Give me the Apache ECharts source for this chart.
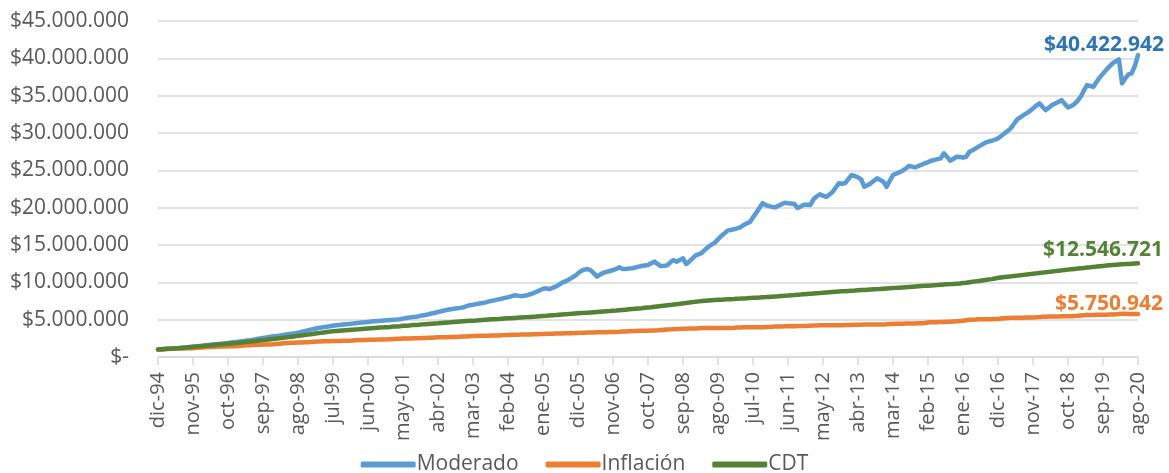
<!DOCTYPE html>
<html>
<head>
<meta charset="utf-8">
<script src="https://cdn.jsdelivr.net/npm/echarts@6/dist/echarts.min.js"></script>
<style>
  html, body { margin: 0; padding: 0; background: #fff; }
  #echart { width: 1169px; height: 473px; }
</style>
</head>
<body>
<div id="echart"></div>
<script>
  // meses de dic-94 a ago-20 (309 puntos)
  const monthNames = ['ene', 'feb', 'mar', 'abr', 'may', 'jun', 'jul', 'ago', 'sep', 'oct', 'nov', 'dic'];
  const categories = [];
  for (let i = 0; i < 309; i++) {
    const m = (11 + i) % 12;
    const y = (94 + Math.floor((11 + i) / 12)) % 100;
    categories.push(monthNames[m] + '-' + String(y).padStart(2, '0'));
  }

  // valores en millones de pesos
  const moderado = [
    1.00,
    1.03, 1.06, 1.09, 1.12, 1.15, 1.18, 1.22, 1.26, 1.30, 1.34, 1.38, 1.42,
    1.47, 1.52, 1.57, 1.62, 1.67, 1.71, 1.75, 1.79, 1.83, 1.88, 1.93, 1.98,
    2.03, 2.09, 2.14, 2.20, 2.26, 2.33, 2.40, 2.47, 2.55, 2.62, 2.68, 2.74,
    2.80, 2.86, 2.93, 3.00, 3.06, 3.12, 3.18, 3.26, 3.36, 3.46, 3.56, 3.66,
    3.76, 3.85, 3.93, 4.00, 4.06, 4.12, 4.18, 4.24, 4.29, 4.34, 4.38, 4.42,
    4.47, 4.52, 4.57, 4.61, 4.65, 4.70, 4.74, 4.78, 4.82, 4.85, 4.89, 4.93,
    4.96, 4.99, 5.02, 5.06, 5.14, 5.22, 5.28, 5.34, 5.40, 5.47, 5.55, 5.63,
    5.72, 5.82, 5.92, 6.03, 6.12, 6.22, 6.34, 6.40, 6.46, 6.52, 6.58, 6.66,
    6.80, 6.94, 7.00, 7.08, 7.17, 7.23, 7.32, 7.45, 7.53, 7.62, 7.72, 7.81,
    7.92, 8.00, 8.12, 8.26, 8.22, 8.15, 8.20, 8.28, 8.40, 8.55, 8.75, 8.95,
    9.15, 9.20, 9.08, 9.25, 9.42, 9.68, 9.95, 10.12, 10.35, 10.60, 10.85, 11.20,
    11.52, 11.70, 11.78, 11.62, 11.20, 10.76, 11.05, 11.29, 11.40, 11.52, 11.65, 11.80,
    12.01, 11.78, 11.80, 11.84, 11.87, 11.98, 12.10, 12.18, 12.25, 12.32, 12.55, 12.77,
    12.45, 12.19, 12.22, 12.27, 12.65, 12.99, 12.77, 13.00, 13.21, 12.45, 12.80, 13.20,
    13.61, 13.78, 13.97, 14.40, 14.77, 15.05, 15.31, 15.75, 16.20, 16.55, 16.92, 17.02,
    17.10, 17.22, 17.36, 17.65, 17.90, 18.05, 18.70, 19.30, 19.95, 20.60, 20.35, 20.20,
    20.10, 20.04, 20.25, 20.45, 20.66, 20.60, 20.55, 20.49, 19.95, 20.15, 20.40, 20.38,
    20.35, 21.12, 21.50, 21.80, 21.60, 21.45, 21.75, 22.10, 22.70, 23.26, 23.20, 23.30,
    23.85, 24.37, 24.24, 24.05, 23.79, 22.80, 23.00, 23.26, 23.60, 23.93, 23.70, 23.48,
    22.80, 23.60, 24.37, 24.55, 24.75, 24.95, 25.25, 25.58, 25.50, 25.40, 25.58, 25.75,
    25.94, 26.10, 26.29, 26.40, 26.50, 26.60, 27.28, 26.80, 26.29, 26.55, 26.82, 26.80,
    26.70, 26.82, 27.49, 27.70, 27.94, 28.20, 28.45, 28.70, 28.85, 28.96, 29.10, 29.28,
    29.60, 29.95, 30.25, 30.62, 31.20, 31.82, 32.10, 32.40, 32.65, 32.94, 33.30, 33.65,
    33.97, 33.50, 33.07, 33.40, 33.74, 33.95, 34.15, 34.41, 33.90, 33.43, 33.60, 33.88,
    34.30, 34.86, 35.70, 36.42, 36.30, 36.20, 36.85, 37.45, 37.95, 38.43, 38.90, 39.33,
    39.60, 39.86, 36.65, 37.30, 37.85, 38.00, 38.95, 40.422942
  ];

  const inflacion = [
    1.00,
    1.02, 1.05, 1.07, 1.09, 1.11, 1.13, 1.14, 1.15, 1.16, 1.17, 1.18, 1.20,
    1.23, 1.27, 1.30, 1.33, 1.35, 1.37, 1.39, 1.40, 1.42, 1.43, 1.44, 1.45,
    1.48, 1.51, 1.54, 1.57, 1.59, 1.61, 1.63, 1.64, 1.66, 1.68, 1.69, 1.71,
    1.74, 1.78, 1.82, 1.86, 1.89, 1.91, 1.92, 1.93, 1.94, 1.96, 1.97, 2.00,
    2.03, 2.06, 2.08, 2.10, 2.11, 2.12, 2.13, 2.14, 2.15, 2.16, 2.17, 2.18,
    2.20, 2.24, 2.26, 2.28, 2.29, 2.30, 2.31, 2.32, 2.33, 2.35, 2.36, 2.37,
    2.39, 2.42, 2.44, 2.46, 2.47, 2.48, 2.49, 2.50, 2.51, 2.52, 2.53, 2.55,
    2.57, 2.59, 2.61, 2.63, 2.64, 2.65, 2.66, 2.67, 2.68, 2.69, 2.71, 2.73,
    2.75, 2.78, 2.80, 2.82, 2.83, 2.84, 2.85, 2.86, 2.87, 2.88, 2.89, 2.91,
    2.93, 2.95, 2.97, 2.98, 2.99, 3.00, 3.01, 3.02, 3.03, 3.04, 3.05, 3.07,
    3.09, 3.11, 3.12, 3.13, 3.14, 3.15, 3.16, 3.17, 3.18, 3.19, 3.20, 3.22,
    3.24, 3.26, 3.27, 3.28, 3.29, 3.30, 3.31, 3.32, 3.33, 3.34, 3.35, 3.36,
    3.38, 3.41, 3.43, 3.46, 3.48, 3.49, 3.50, 3.51, 3.52, 3.53, 3.54, 3.55,
    3.58, 3.62, 3.65, 3.68, 3.70, 3.72, 3.74, 3.76, 3.78, 3.80, 3.81, 3.82,
    3.83, 3.85, 3.87, 3.88, 3.89, 3.89, 3.89, 3.90, 3.89, 3.89, 3.89, 3.90,
    3.92, 3.95, 3.96, 3.98, 3.99, 3.99, 4.00, 4.00, 4.00, 4.00, 4.01, 4.02,
    4.04, 4.07, 4.09, 4.10, 4.11, 4.12, 4.14, 4.13, 4.14, 4.15, 4.16, 4.17,
    4.19, 4.21, 4.22, 4.24, 4.25, 4.25, 4.25, 4.25, 4.26, 4.26, 4.26, 4.28,
    4.29, 4.30, 4.31, 4.32, 4.33, 4.34, 4.34, 4.35, 4.35, 4.34, 4.35, 4.36,
    4.38, 4.41, 4.42, 4.44, 4.45, 4.46, 4.47, 4.48, 4.49, 4.50, 4.51, 4.52,
    4.55, 4.61, 4.64, 4.66, 4.67, 4.68, 4.69, 4.71, 4.73, 4.76, 4.79, 4.82,
    4.86, 4.93, 4.98, 5.00, 5.02, 5.05, 5.07, 5.06, 5.06, 5.07, 5.08, 5.10,
    5.15, 5.20, 5.22, 5.24, 5.26, 5.27, 5.27, 5.27, 5.28, 5.29, 5.30, 5.31,
    5.34, 5.38, 5.39, 5.42, 5.43, 5.44, 5.44, 5.45, 5.46, 5.47, 5.47, 5.48,
    5.51, 5.55, 5.58, 5.61, 5.63, 5.64, 5.65, 5.66, 5.66, 5.67, 5.68, 5.69,
    5.71, 5.75, 5.78, 5.79, 5.77, 5.75, 5.75, 5.750942
  ];

  const cdt = [
    1.00,
    1.03, 1.06, 1.09, 1.12, 1.15, 1.18, 1.21, 1.25, 1.28, 1.32, 1.36, 1.40,
    1.44, 1.47, 1.51, 1.55, 1.58, 1.62, 1.66, 1.69, 1.73, 1.77, 1.81, 1.85,
    1.89, 1.94, 1.98, 2.03, 2.07, 2.12, 2.16, 2.21, 2.26, 2.30, 2.35, 2.40,
    2.45, 2.50, 2.55, 2.60, 2.66, 2.72, 2.78, 2.84, 2.89, 2.94, 3.00, 3.05,
    3.11, 3.17, 3.23, 3.29, 3.35, 3.40, 3.45, 3.49, 3.53, 3.56, 3.59, 3.62,
    3.65, 3.68, 3.71, 3.75, 3.79, 3.83, 3.86, 3.89, 3.92, 3.95, 3.97, 4.00,
    4.03, 4.07, 4.10, 4.13, 4.17, 4.20, 4.23, 4.27, 4.30, 4.33, 4.37, 4.40,
    4.43, 4.46, 4.49, 4.52, 4.56, 4.59, 4.62, 4.65, 4.69, 4.72, 4.75, 4.78,
    4.81, 4.84, 4.87, 4.89, 4.92, 4.95, 4.98, 5.01, 5.04, 5.07, 5.09, 5.12,
    5.15, 5.18, 5.20, 5.23, 5.26, 5.29, 5.31, 5.34, 5.37, 5.40, 5.42, 5.45,
    5.48, 5.51, 5.55, 5.58, 5.61, 5.65, 5.68, 5.71, 5.75, 5.78, 5.82, 5.85,
    5.88, 5.91, 5.94, 5.97, 6.00, 6.03, 6.06, 6.09, 6.12, 6.15, 6.19, 6.22,
    6.26, 6.30, 6.34, 6.38, 6.42, 6.46, 6.50, 6.54, 6.59, 6.63, 6.67, 6.72,
    6.77, 6.82, 6.87, 6.92, 6.97, 7.02, 7.07, 7.12, 7.18, 7.23, 7.29, 7.35,
    7.40, 7.45, 7.49, 7.53, 7.57, 7.60, 7.63, 7.66, 7.68, 7.70, 7.73, 7.75,
    7.77, 7.80, 7.82, 7.85, 7.87, 7.90, 7.92, 7.95, 7.97, 8.00, 8.02, 8.05,
    8.08, 8.11, 8.14, 8.18, 8.21, 8.24, 8.28, 8.31, 8.35, 8.38, 8.42, 8.45,
    8.48, 8.51, 8.54, 8.57, 8.61, 8.64, 8.67, 8.70, 8.73, 8.76, 8.79, 8.82,
    8.85, 8.88, 8.90, 8.93, 8.96, 8.98, 9.01, 9.04, 9.07, 9.09, 9.12, 9.15,
    9.18, 9.21, 9.24, 9.26, 9.29, 9.32, 9.35, 9.38, 9.41, 9.44, 9.47, 9.50,
    9.53, 9.55, 9.58, 9.61, 9.64, 9.67, 9.70, 9.73, 9.76, 9.79, 9.82, 9.85,
    9.90, 9.95, 10.01, 10.07, 10.13, 10.19, 10.25, 10.31, 10.37, 10.43, 10.52, 10.60,
    10.65, 10.70, 10.75, 10.80, 10.85, 10.90, 10.95, 11.00, 11.05, 11.10, 11.15, 11.20,
    11.25, 11.30, 11.35, 11.40, 11.45, 11.50, 11.55, 11.60, 11.65, 11.70, 11.75, 11.80,
    11.84, 11.89, 11.93, 11.98, 12.02, 12.07, 12.11, 12.16, 12.20, 12.24, 12.29, 12.33,
    12.36, 12.39, 12.42, 12.44, 12.47, 12.50, 12.52, 12.546721
  ];

  const yTicks = { min: 0, max: 45, interval: 5 };

  function pesos(millones) {
    const n = Math.round(millones * 1000000);
    if (n === 0) return '$-';
    return '$' + String(n).replace(/\B(?=(\d{3})+(?!\d))/g, '.');
  }

  const font = 'Open Sans';
  const grey = '#595959';

  function serie(name, data, color, labelColor, offset) {
    return {
      name: name,
      type: 'line',
      data: data,
      showSymbol: false,
      symbol: 'none',
      lineStyle: { width: 4.5, color: color, cap: 'round', join: 'round' },
      itemStyle: { color: color },
      endLabel: {
        show: true,
        align: 'right',
        distance: 0,
        offset: offset,
        formatter: (p) => pesos(p.value),
        color: labelColor,
        fontFamily: font,
        fontWeight: 'bold',
        fontSize: 21
      }
    };
  }

  const option = {
    animation: false,
    backgroundColor: '#fff',
    grid: { left: 158, right: 31, top: 21, bottom: 116, containLabel: false },
    legend: {
      data: ['Moderado', 'Inflación', 'CDT'],
      top: 449,
      left: 'center',
      itemWidth: 55,
      itemHeight: 6,
      itemGap: 27,
      icon: 'roundRect',
      textStyle: { color: grey, fontFamily: font, fontSize: 21, padding: [0, 0, 0, -4] }
    },
    xAxis: {
      type: 'category',
      boundaryGap: false,
      data: categories,
      axisLine: { lineStyle: { color: '#d9d9d9', width: 1.5 } },
      axisTick: { show: true, interval: 10, length: 8, lineStyle: { color: '#d9d9d9', width: 1.5 } },
      axisLabel: { interval: 10, rotate: 90, margin: 15, color: grey, fontFamily: font, fontSize: 20 },
      splitLine: { show: false }
    },
    yAxis: {
      type: 'value',
      min: yTicks.min,
      max: yTicks.max,
      interval: yTicks.interval,
      axisLine: { show: false },
      axisTick: { show: false },
      axisLabel: { formatter: pesos, margin: 29, color: grey, fontFamily: font, fontSize: 21 },
      splitLine: { lineStyle: { color: '#d9d9d9', width: 1.5 } }
    },
    series: [
      serie('Moderado', moderado, '#5B9BD5', '#2E75B6', [26, -10]),
      serie('Inflación', inflacion, '#ED7D31', '#ED7D31', [25, -10]),
      serie('CDT', cdt, '#548235', '#548235', [25, -13])
    ]
  };

  const echart = echarts.init(document.getElementById('echart'));
  echart.setOption(option);
  window.addEventListener('resize', () => echart.resize());
</script>
</body>
</html>
